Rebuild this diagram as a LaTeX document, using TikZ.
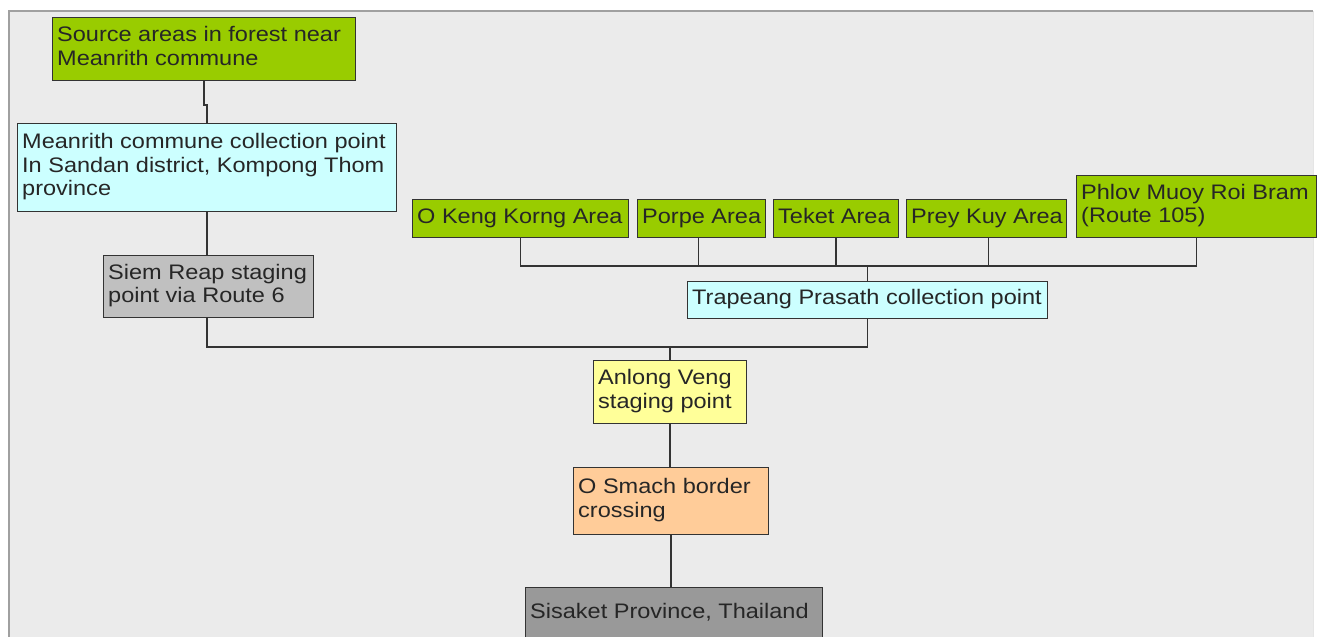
\documentclass[tikz,border=0pt]{standalone}
\usepackage{fontspec}
\setmainfont{Liberation Sans}[FakeStretch=1.12]
\definecolor{panelbg}{HTML}{EBEBEB}
\definecolor{panelline}{HTML}{A0A0A0}
\definecolor{cgreen}{HTML}{99CC00}
\definecolor{ccyan}{HTML}{CCFFFF}
\definecolor{cgray}{HTML}{C0C0C0}
\definecolor{cdgray}{HTML}{999999}
\definecolor{cyellow}{HTML}{FFFF99}
\definecolor{corange}{HTML}{FFCC99}
\definecolor{cline}{HTML}{333333}
\tikzset{
  box/.style={draw=cline, line width=1pt, inner sep=0pt},
  boxtext/.style={anchor=west, inner sep=0pt, align=left,
    font=\fontsize{21}{23.5}\selectfont, text=black!85},
  greenbox/.style={box, fill=cgreen},
  cyanbox/.style={box, fill=ccyan},
  graybox/.style={box, fill=cgray},
  dgraybox/.style={box, fill=cdgray},
  yellowbox/.style={box, fill=cyellow},
  orangebox/.style={box, fill=corange},
  conn/.style={draw=cline, line width=1.2pt},
}
\newcommand{\bx}[7]{%
  \pgfmathsetmacro\bxw{#5-#3}%
  \pgfmathsetmacro\bxh{#6-#4}%
  \node[#2, anchor=north west, minimum width=\bxw pt, minimum height=\bxh pt] (#1) at (#3,#4) {};
  \node[boxtext] (#1t) at ([xshift=5pt,yshift=0pt]#1.west) {\strut #7\strut};}
\begin{document}
\begin{tikzpicture}[x=1pt,y=-1pt]
\useasboundingbox (0,0) rectangle (1317,637);
\fill[white] (0,0) rectangle (1317,637);
\fill[panelbg] (8,10) rectangle (1313,640);
\draw[panelline, line width=1.5pt] (8.75,640) -- (8.75,10.75) -- (1313,10.75);
\draw[white!90!black, line width=1pt] (1313,11) -- (1313,640);

% nodes
\bx{src}{greenbox}{52}{17}{355}{80}{Source areas in forest near\\Meanrith commune}
\bx{mean}{cyanbox}{17}{123}{396}{211}{Meanrith commune collection point\\In Sandan district, Kompong Thom\\province}
\bx{siem}{graybox}{103}{255}{313}{317}{Siem Reap staging\\point via Route 6}
\bx{oke}{greenbox}{412}{199}{628}{237}{O Keng Korng Area}
\bx{por}{greenbox}{637}{199}{765}{237}{Porpe Area}
\bx{tek}{greenbox}{773}{199}{898}{237}{Teket Area}
\bx{prey}{greenbox}{906}{199}{1066}{237}{Prey Kuy Area}
\bx{phl}{greenbox}{1076}{175}{1316}{237}{Phlov Muoy Roi Bram\\(Route 105)}
\bx{trap}{cyanbox}{687}{281}{1047}{318}{Trapeang Prasath collection point}
\bx{anl}{yellowbox}{593}{360}{746}{423}{Anlong Veng\\staging point}
\bx{osm}{orangebox}{573}{467}{768}{534}{O Smach border\\crossing}
\bx{sis}{dgraybox}{525}{587}{822}{640}{Sisaket Province, Thailand}

% junction coordinates
\coordinate (bus) at (0,266);
\coordinate (low) at (0,347);

% connectors
\draw[conn] (src.south) -- ++(0,24) -| (mean.north);
\draw[conn] (mean.south) -- (mean.south |- siem.north);
\draw[conn] (mean.south |- siem.south) -- (mean.south |- low) -| (trap.south);
\draw[conn] (oke.south) |- (bus -| trap.north);
\draw[conn] (oke.south |- bus) -| (phl.south);
\draw[conn] (por.south) ++(-3,0) -- ++(0,29);
\draw[conn] (tek.south) -- (tek.south |- bus);
\draw[conn] (prey.south) ++(2,0) -- ++(0,29);
\draw[conn] (trap.north) -- (trap.north |- bus);
\draw[conn] (anl.north) -- (anl.north |- low);
\draw[conn] (anl.south) -- (anl.south |- osm.north);
\draw[conn] (osm.south) -- (osm.south |- sis.north);
\end{tikzpicture}
\end{document}
